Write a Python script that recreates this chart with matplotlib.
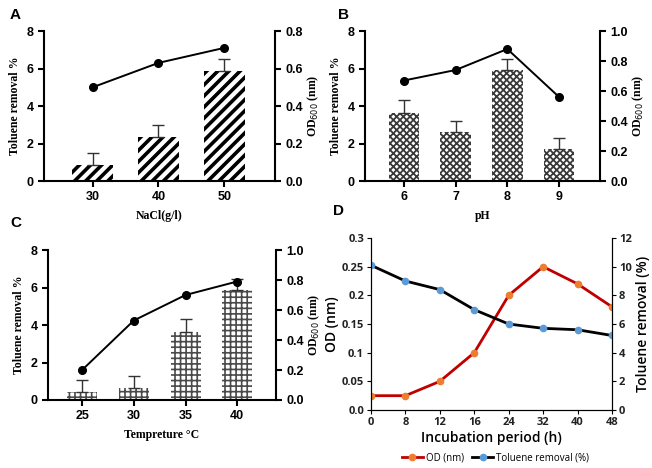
import numpy as np
import matplotlib
matplotlib.use("Agg")
import matplotlib.pyplot as plt
from matplotlib.font_manager import FontProperties

# A - NaCl
nacl = ['30', '40', '50']
nacl_rem = [0.85, 2.35, 5.85]
nacl_err = [0.65, 0.65, 0.65]
nacl_od = [0.50, 0.63, 0.71]

# B - pH
ph = ['6', '7', '8', '9']
ph_rem = [3.65, 2.6, 5.9, 1.7]
ph_err = [0.65, 0.6, 0.6, 0.6]
ph_od = [0.67, 0.74, 0.88, 0.56]

# C - temperature
temp = ['25', '30', '35', '40']
temp_rem = [0.4, 0.65, 3.65, 5.85]
temp_err = [0.65, 0.65, 0.65, 0.6]
temp_od = [0.20, 0.53, 0.70, 0.79]

# D - incubation period
hours = ['0', '8', '12', '16', '24', '32', '40', '48']
od_nm = [0.025, 0.025, 0.05, 0.1, 0.2, 0.25, 0.22, 0.18]
tol_rem = [10.1, 9.0, 8.4, 7.0, 6.0, 5.7, 5.6, 5.2]

fig = plt.figure(figsize=(6.52, 4.68), dpi=100)

tickfont = FontProperties(family='Liberation Sans', weight='bold', size=9)
labfont = dict(family='Liberation Serif', weight='bold', size=8.5)


def bar_panel(rect, cats, rem, err, od, xlim, width, hatch, hcolor, hlw, od_max, od_ticks, xlabel):
    ax = fig.add_axes(rect)
    x = np.arange(len(cats))
    plt.rcParams['hatch.linewidth'] = hlw
    ax.bar(x, rem, width=width, color='white', edgecolor=hcolor, hatch=hatch, linewidth=0)
    ax.errorbar(x, rem, yerr=[np.zeros(len(err)), err], fmt='none', ecolor='#333333',
                elinewidth=1, capsize=4, capthick=1)
    ax.set_xlim(*xlim)
    ax.set_ylim(0, 8)
    ax.set_yticks([0, 2, 4, 6, 8])
    ax.set_xticks(x)
    ax.set_xticklabels(cats)
    ax.spines['top'].set_visible(False)
    ax.spines['right'].set_visible(False)
    for s in ['left', 'bottom']:
        ax.spines[s].set_linewidth(1.5)
    ax.tick_params(width=1.5, length=4)
    for t in ax.get_xticklabels() + ax.get_yticklabels():
        t.set_fontproperties(tickfont)
    ax.set_ylabel('Toluene removal %', fontdict=labfont, labelpad=4)
    ax.set_xlabel(xlabel, fontdict=labfont, labelpad=5)

    ax2 = ax.twinx()
    ax2.plot(x, od, color='black', marker='o', markersize=5.5, linewidth=1.4)
    ax2.set_ylim(0, od_max)
    ax2.set_yticks(od_ticks)
    ax2.set_yticklabels(['%.1f' % v for v in od_ticks])
    ax2.spines['top'].set_visible(False)
    ax2.spines['left'].set_visible(False)
    ax2.spines['bottom'].set_visible(False)
    ax2.spines['right'].set_linewidth(1.5)
    ax2.tick_params(width=1.5, length=4)
    for t in ax2.get_yticklabels():
        t.set_fontproperties(tickfont)
    ax2.set_ylabel(r'OD$_{600}$ (nm)', fontdict=labfont, labelpad=2)
    return ax


bar_panel([0.0675, 0.6132, 0.354, 0.3205], nacl, nacl_rem, nacl_err, nacl_od,
          (-0.74, 2.77), 0.62, '///', 'black', 2.6, 0.8, [0, 0.2, 0.4, 0.6, 0.8], 'NaCl(g/l)')
bar_panel([0.5598, 0.6132, 0.3604, 0.3205], ph, ph_rem, ph_err, ph_od,
          (-0.75, 3.79), 0.59, 'xxxxx', '#3a3a3a', 1.3, 1.0, [0, 0.2, 0.4, 0.6, 0.8, 1.0], 'pH')
bar_panel([0.0736, 0.1453, 0.3497, 0.3205], temp, temp_rem, temp_err, temp_od,
          (-0.66, 3.75), 0.58, '+++', '#4a4a4a', 1.2, 1.0, [0, 0.2, 0.4, 0.6, 0.8, 1.0],
          'Tempreture °C')

# Panel D
dtick = FontProperties(family='Open Sans', weight='bold', size=8)
dlab = dict(family='Open Sans', fontsize=10, fontweight='semibold')

axd = fig.add_axes([0.569, 0.1239, 0.3696, 0.3675])
xd = np.arange(len(hours))
l1, = axd.plot(xd, od_nm, color='#C00000', linewidth=2, marker='o', markersize=4.5,
               markerfacecolor='#ED7D31', markeredgecolor='#ED7D31', label='OD (nm)')
axd.set_xlim(0, len(hours) - 1)
axd.set_ylim(0, 0.3)
axd.set_yticks([0, 0.05, 0.1, 0.15, 0.2, 0.25, 0.3])
axd.set_yticklabels(['0.0', '0.05', '0.1', '0.15', '0.2', '0.25', '0.3'])
axd.set_xticks(xd)
axd.set_xticklabels(hours)
axd.spines['top'].set_visible(False)
for t in axd.get_xticklabels() + axd.get_yticklabels():
    t.set_fontproperties(dtick)
    t.set_color('#222222')
axd.tick_params(length=3, pad=2)
axd.set_ylabel('OD (nm)', labelpad=2, **dlab)
axd.set_xlabel('Incubation period (h)', labelpad=2, **dlab)

axd2 = axd.twinx()
l2, = axd2.plot(xd, tol_rem, color='black', linewidth=2, marker='o', markersize=4.5,
                markerfacecolor='#5B9BD5', markeredgecolor='#5B9BD5', label='Toluene removal (%)')
axd2.set_ylim(0, 12)
axd2.set_yticks(range(0, 13, 2))
axd2.spines['top'].set_visible(False)
for t in axd2.get_yticklabels():
    t.set_fontproperties(dtick)
    t.set_color('#222222')
axd2.tick_params(length=3, pad=2)
axd2.set_ylabel('Toluene removal (%)', labelpad=3, **dlab)

fig.legend([l1, l2], ['OD (nm)', 'Toluene removal (%)'], loc='center',
           bbox_to_anchor=(0.76, 0.021), ncol=2, frameon=False,
           prop={'family': 'Open Sans', 'size': 7}, handlelength=2.2, columnspacing=0.8,
           handletextpad=0.3)

# panel letters
for lab, (px, py) in zip('ABCD', [(10, 15), (338, 15), (10, 223), (333, 211)]):
    fig.text(px / 652, 1 - py / 468, lab, fontsize=11, fontweight='bold',
             family='Liberation Sans', va='center', ha='left')

fig.savefig('out.png', dpi=100)
